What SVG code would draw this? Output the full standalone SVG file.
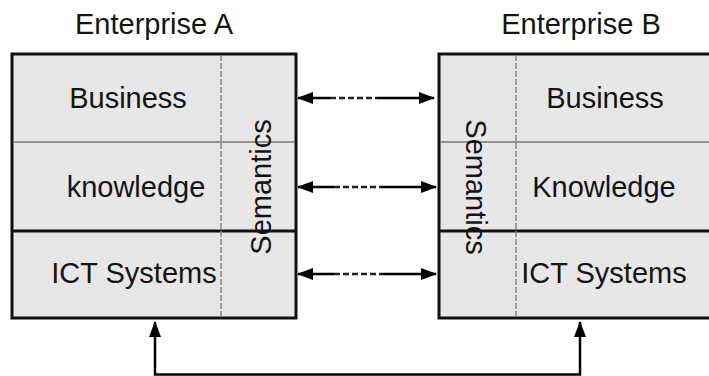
<svg xmlns="http://www.w3.org/2000/svg" width="709" height="376" viewBox="0 0 709 376">
  <style>
    .lbl { font-family: "Liberation Sans", Arial, sans-serif; font-size: 29px; fill: #141414; }
    .box { fill: #e7e7e7; stroke: #111; stroke-width: 3; }
    .thin { stroke: #777; stroke-width: 1.5; fill: none; }
    .thick { stroke: #111; stroke-width: 3; fill: none; }
    .sep { stroke: #888; stroke-width: 1.5; stroke-dasharray: 6 2; fill: none; }
    .conn { stroke: #000; stroke-width: 2.5; fill: none; }
    .dash { stroke: #222; stroke-width: 2.5; stroke-dasharray: 6 3; fill: none; }
  </style>
  <defs>
    <marker id="head" viewBox="0 0 16 12" refX="15" refY="6" markerWidth="16" markerHeight="12" markerUnits="userSpaceOnUse" orient="auto-start-reverse">
      <path d="M0,0 L16,6 L0,12 Z" fill="#000"/>
    </marker>
  </defs>
  <rect width="709" height="376" fill="#fff"/>

  <!-- Enterprise A -->
  <g id="enterprise-a">
    <text class="lbl" x="154" y="34" text-anchor="middle">Enterprise A</text>
    <rect class="box" x="12" y="54" width="284" height="264"/>
    <line class="thin" x1="13" y1="142" x2="295" y2="142"/>
    <line class="thick" x1="13" y1="231" x2="295" y2="231"/>
    <line class="sep" x1="221" y1="55" x2="221" y2="317"/>
    <text class="lbl" x="128" y="108" text-anchor="middle">Business</text>
    <text class="lbl" x="136" y="197" text-anchor="middle">knowledge</text>
    <text class="lbl" x="134" y="283" text-anchor="middle">ICT Systems</text>
    <text class="lbl" transform="translate(271,187) rotate(-90)" text-anchor="middle">Semantics</text>
  </g>

  <!-- Enterprise B -->
  <g id="enterprise-b">
    <text class="lbl" x="581" y="34" text-anchor="middle">Enterprise B</text>
    <rect class="box" x="439" y="54" width="280" height="264"/>
    <line class="thin" x1="440" y1="142" x2="709" y2="142"/>
    <line class="thick" x1="440" y1="231" x2="709" y2="231"/>
    <line class="sep" x1="516" y1="55" x2="516" y2="317"/>
    <text class="lbl" x="605" y="108" text-anchor="middle">Business</text>
    <text class="lbl" x="604" y="197" text-anchor="middle">Knowledge</text>
    <text class="lbl" x="604" y="283" text-anchor="middle">ICT Systems</text>
    <text class="lbl" transform="translate(466,187) rotate(90)" text-anchor="middle">Semantics</text>
  </g>

  <!-- Connectors between the two enterprises -->
  <g id="connectors">
    <line class="conn" x1="298" y1="98" x2="330" y2="98" marker-start="url(#head)"/>
    <line class="dash" x1="330" y1="98" x2="377" y2="98"/>
    <line class="conn" x1="377" y1="98" x2="434" y2="98" marker-end="url(#head)"/>

    <line class="conn" x1="298" y1="187" x2="334" y2="187" marker-start="url(#head)"/>
    <line class="dash" x1="334" y1="187" x2="381" y2="187"/>
    <line class="conn" x1="381" y1="187" x2="436" y2="187" marker-end="url(#head)"/>

    <line class="conn" x1="298" y1="274" x2="334" y2="274" marker-start="url(#head)"/>
    <line class="dash" x1="334" y1="274" x2="381" y2="274"/>
    <line class="conn" x1="381" y1="274" x2="436" y2="274" marker-end="url(#head)"/>

    <path class="conn" d="M155,322 L155,374.5 L580,374.5 L580,322" marker-start="url(#head)" marker-end="url(#head)"/>
  </g>
</svg>
